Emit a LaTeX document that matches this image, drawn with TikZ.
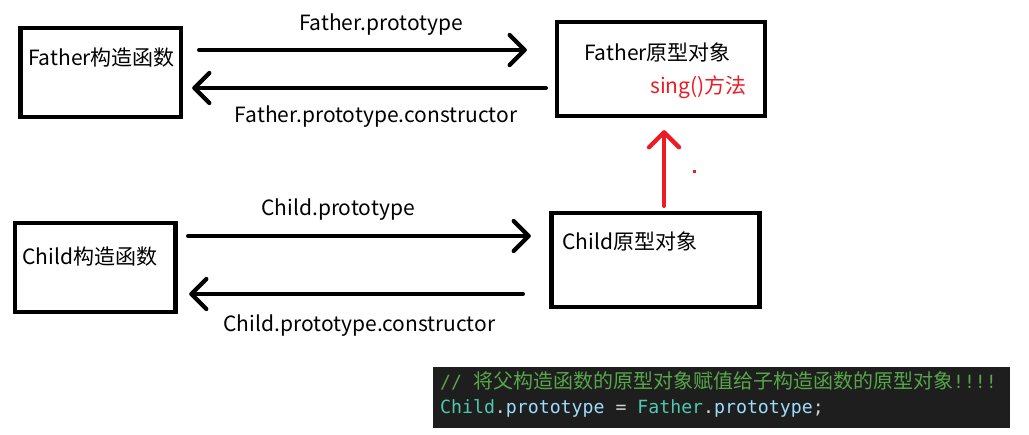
\documentclass[tikz,border=0pt]{standalone}
\usepackage{fontspec}
\setmainfont{Noto Sans CJK SC}
\newfontfamily\cjk{Noto Sans CJK SC}
\newfontfamily\codefont{DejaVu Sans Mono}
\usetikzlibrary{arrows.meta}
\definecolor{paintred}{HTML}{ED1C24}
\definecolor{codebg}{HTML}{1E1E1E}
\definecolor{cmt}{HTML}{57A64A}
\definecolor{cls}{HTML}{4EC9B0}
\definecolor{prop}{HTML}{9CDCFE}
\definecolor{plain}{HTML}{D4D4D4}
\tikzset{
  box/.style={draw=black, line width=4.3pt, inner sep=0pt},
  lbl/.style={font=\fontsize{21}{24}\selectfont, inner sep=0pt},
  arr/.style={line width=4.3pt, line cap=round,
    -{Straight Barb[length=15pt,width=30pt,line cap=round,line join=round]}},
  codetxt/.style={anchor=west, inner sep=0pt, font=\codefont\fontsize{18.2}{20}\selectfont}
}
\begin{document}
\begin{tikzpicture}[x=1pt,y=-1pt]
\useasboundingbox[fill=white] (0,0) rectangle (1029,435);
% boxes
\node[box, minimum width=160.5pt, minimum height=89pt] (fc) at (100.75,72.5) {};
\node[box, minimum width=208pt, minimum height=94pt] (fp) at (661,69) {};
\node[box, minimum width=160.5pt, minimum height=89pt] (cc) at (95.25,267.5) {};
\node[box, minimum width=208pt, minimum height=94pt] (cp) at (655.5,260) {};
% box texts
\node[lbl] (fct) at (101.5,58) {Father构造函数};
\node[lbl] (fpt) at (657.5,52) {Father原型对象};
\node[lbl, text=paintred] (fps) at (698.5,87) {sing()方法};
\node[lbl] (cct) at (90,257) {Child构造函数};
\node[lbl] (cpt) at (630,241) {Child原型对象};
% arrows
\draw[arr] ([shift={(16pt,22.5pt)}]fc.east) -- ([shift={(-28pt,19pt)}]fp.west);
\draw[arr] ([shift={(-9pt,-19pt)}]fp.west) -- ([shift={(9pt,-15.5pt)}]fc.east);
\draw[arr] ([shift={(10.5pt,31.5pt)}]cc.east) -- ([shift={(-18.5pt,24pt)}]cp.west);
\draw[arr] ([shift={(-26.5pt,-34pt)}]cp.west) -- ([shift={(11.5pt,-26.5pt)}]cc.east);
\draw[arr, draw=paintred] ([shift={(8.5pt,5pt)}]cp.north) -- ([shift={(3pt,-12pt)}]fp.south);
\node[fill=paintred, inner sep=0pt, minimum size=3pt] (dot) at (694,172) {};
% arrow labels
\node[lbl] (l1) at (381,25) {Father.prototype};
\node[lbl] (l2) at (376,117) {Father.prototype.constructor};
\node[lbl] (l3) at (338,210) {Child.prototype};
\node[lbl] (l4) at (359.5,326) {Child.prototype.constructor};
% code box
\node[fill=codebg, minimum width=577pt, minimum height=61pt, inner sep=0pt] (code) at (721.5,397.5) {};
\node[codetxt, text=cmt] (c1) at (440,381) {// {\cjk\fontsize{20}{22}\selectfont 将父构造函数的原型对象赋值给子构造函数的原型对象}!!!!};
\node[codetxt] (c2) at (440,408) {{\color{cls}Child}{\color{plain}.}{\color{prop}prototype}{\color{plain}\ =\ }{\color{cls}Father}{\color{plain}.}{\color{prop}prototype}{\color{plain};}};
\end{tikzpicture}
\end{document}
